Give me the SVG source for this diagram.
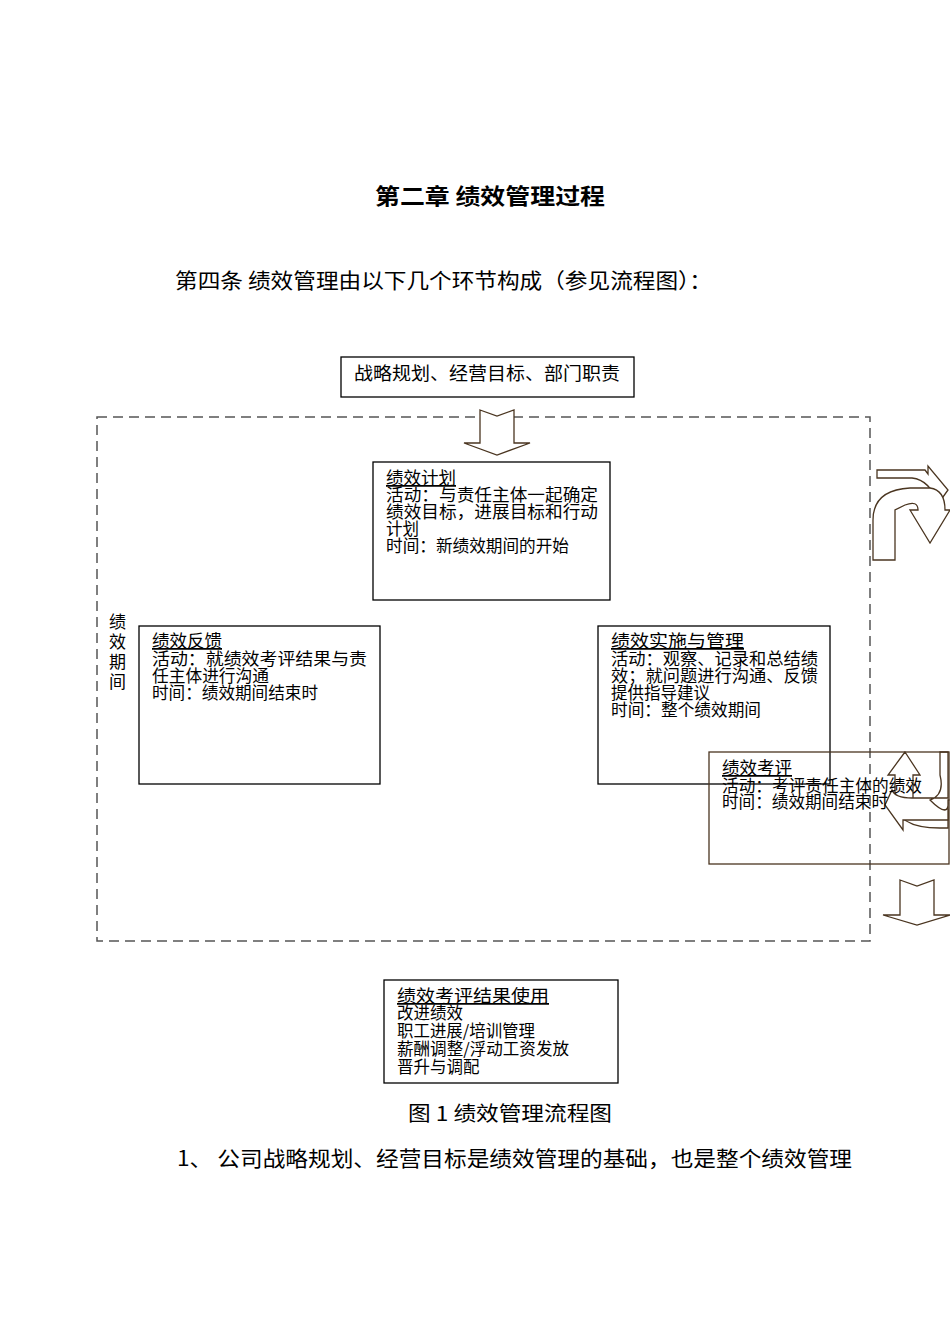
<svg xmlns="http://www.w3.org/2000/svg" width="950" height="1344" viewBox="0 0 950 1344">
<style>
text{font-family:"Noto Sans CJK SC","Noto Sans",sans-serif;fill:#000}
.b{fill:#fff;stroke:#000;stroke-width:1.3}
.bt{fill:none;stroke:#4a3520;stroke-width:1.3}
.a{fill:#fff;stroke:#4a3520;stroke-width:1.3}
.t{font-size:16.5px}
.h{font-size:17.5px;text-decoration:underline}
</style>
<rect width="950" height="1344" fill="#fff"/>
<text x="375" y="204" font-size="22" font-weight="bold" textLength="230" lengthAdjust="spacingAndGlyphs">第二章  绩效管理过程</text>
<text x="175" y="288" font-size="21" textLength="537" lengthAdjust="spacingAndGlyphs">第四条  绩效管理由以下几个环节构成（参见流程图）：</text>
<g id="source"><rect class="b" x="341" y="357" width="293" height="40"/><text x="354" y="380" font-size="18" textLength="266" lengthAdjust="spacingAndGlyphs">战略规划、经营目标、部门职责</text></g>
<rect x="97" y="417" width="773" height="524" fill="none" stroke="#555" stroke-width="1.5" stroke-dasharray="10,6"/>
<g id="period"><text x="109" y="628" font-size="17">绩</text><text x="109" y="648" font-size="17">效</text><text x="109" y="668" font-size="17">期</text><text x="109" y="688" font-size="17">间</text></g>
<g id="connectors">
<path class="a" d="M480,410 L497,416 L514,410 L514,443 L530,443 L497,455 L464,443 L480,443 Z"/>
<path class="a" d="M900,880 L917,886 L934,880 L934,915 L950,915 L917,925 L883,915 L900,915 Z"/>
<path class="a" d="M877,470 L925,470 L928,474 L928,466 L948,490 L938,504 Q930,480 912,478 L877,478 Z"/>
<path class="a" d="M873,560 L873,520 Q873,490 910,488 L930,488 Q945,490 945,510 L950,510 L930,543 L910,510 L918,510 Q918,500 905,505 L895,510 Q895,515 895,560 Z"/>
<path class="a" d="M905,752 L920,775 L913,775 L913,800 Q915,810 940,810 L948,810 L948,828 L940,828 Q895,828 895,800 L895,775 L888,775 Z"/>
<path class="a" d="M940,752 L948,752 L948,798 L912,798 Q895,798 892,790 L885,805 L903,830 L903,820 L948,820 L948,800 Q950,800 948,800 Q950,820 930,800 Q945,795 940,775 Z"/>
</g>
<g id="plan"><rect class="b" x="373" y="462" width="237" height="138"/>
<text class="h" x="386" y="484">绩效计划</text>
<text class="t" x="386" y="501" textLength="212" lengthAdjust="spacingAndGlyphs">活动：与责任主体一起确定</text>
<text class="t" x="386" y="518" textLength="212" lengthAdjust="spacingAndGlyphs">绩效目标，进展目标和行动</text>
<text class="t" x="386" y="535">计划</text>
<text class="t" x="386" y="552" textLength="183" lengthAdjust="spacingAndGlyphs">时间：新绩效期间的开始</text></g>
<g id="feedback"><rect class="b" x="139" y="626" width="241" height="158"/>
<text class="h" x="152" y="647">绩效反馈</text>
<text class="t" x="152" y="665" textLength="215" lengthAdjust="spacingAndGlyphs">活动：就绩效考评结果与责</text>
<text class="t" x="152" y="682" textLength="117" lengthAdjust="spacingAndGlyphs">任主体进行沟通</text>
<text class="t" x="152" y="699" textLength="166" lengthAdjust="spacingAndGlyphs">时间：绩效期间结束时</text></g>
<g id="implement"><rect class="b" x="598" y="626" width="232" height="158"/>
<text class="h" x="611" y="647" textLength="133" lengthAdjust="spacingAndGlyphs">绩效实施与管理</text>
<text class="t" x="611" y="665" textLength="207" lengthAdjust="spacingAndGlyphs">活动：观察、记录和总结绩</text>
<text class="t" x="611" y="682" textLength="207" lengthAdjust="spacingAndGlyphs">效；就问题进行沟通、反馈</text>
<text class="t" x="611" y="699" textLength="99" lengthAdjust="spacingAndGlyphs">提供指导建议</text>
<text class="t" x="611" y="716" textLength="150" lengthAdjust="spacingAndGlyphs">时间：整个绩效期间</text></g>
<g id="review"><rect class="bt" x="709" y="752" width="240" height="112"/>
<text class="h" x="722" y="774">绩效考评</text>
<text class="t" x="722" y="792" textLength="200" lengthAdjust="spacingAndGlyphs">活动：考评责任主体的绩效</text>
<text class="t" x="722" y="808" textLength="166" lengthAdjust="spacingAndGlyphs">时间：绩效期间结束时</text></g>
<g id="use"><rect class="b" x="384" y="980" width="234" height="103" stroke="#4a3520"/>
<text class="h" x="397" y="1002" textLength="152" lengthAdjust="spacingAndGlyphs">绩效考评结果使用</text>
<text class="t" x="397" y="1019">改进绩效</text>
<text class="t" x="397" y="1037" textLength="138" lengthAdjust="spacingAndGlyphs">职工进展/培训管理</text>
<text class="t" x="397" y="1055" textLength="172" lengthAdjust="spacingAndGlyphs">薪酬调整/浮动工资发放</text>
<text class="t" x="397" y="1073">晋升与调配</text></g>
<text x="408" y="1121" font-size="20" textLength="204" lengthAdjust="spacingAndGlyphs">图 1 绩效管理流程图</text>
<text x="177" y="1166" font-size="21" textLength="675" lengthAdjust="spacingAndGlyphs">1、  公司战略规划、经营目标是绩效管理的基础，也是整个绩效管理</text>
</svg>
